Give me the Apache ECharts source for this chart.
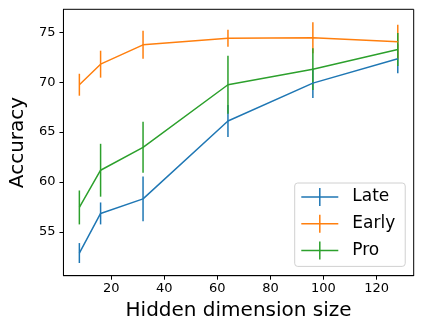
<!DOCTYPE html>
<html><head><meta charset="utf-8">
<script src="https://cdn.jsdelivr.net/npm/echarts@6/dist/echarts.min.js"></script>
<style>html,body{margin:0;padding:0;background:#fff}#c{width:423px;height:328px}</style>
</head><body><div id="c"></div>
<script>
const xs = [8, 16, 32, 64, 96, 128];
const late = [52.87, 56.84, 58.3, 66.1, 69.9, 72.34];
const lateErr = [1.0, 1.1, 2.25, 1.6, 1.5, 1.45];
const early = [69.74, 71.8, 73.74, 74.4, 74.44, 74.04];
const earlyErr = [1.1, 1.35, 1.4, 0.85, 1.55, 1.7];
const pro = [57.44, 61.17, 63.47, 69.74, 71.3, 73.27];
const proErr = [1.7, 2.65, 2.55, 2.9, 2.1, 1.66];
const xTicks = [20, 40, 60, 80, 100, 120];
const yTicks = [55, 60, 65, 70, 75];
const names = ['Late', 'Early', 'Pro'];
const colors = ['#1f77b4', '#ff7f0e', '#2ca02c'];

const means = [late, early, pro];
const errs = [lateErr, earlyErr, proErr];
const font = 'DejaVu Sans';
const series = [];
names.forEach((n, i) => {
  series.push({
    name: n, type: 'line', symbol: 'none',
    data: xs.map((x, j) => [x, means[i][j]]),
    lineStyle: { color: colors[i], width: 1.5 }, itemStyle: { color: colors[i] },
    animation: false
  });
  series.push({
    name: n, type: 'custom',
    data: xs.map((x, j) => [x, means[i][j] - errs[i][j], means[i][j] + errs[i][j]]),
    renderItem: function (params, api) {
      const p1 = api.coord([api.value(0), api.value(1)]);
      const p2 = api.coord([api.value(0), api.value(2)]);
      return { type: 'line', shape: { x1: p1[0], y1: p1[1], x2: p2[0], y2: p2[1] },
        style: { stroke: colors[i], lineWidth: 1.5 } };
    },
    itemStyle: { color: colors[i] },
    animation: false
  });
});
const icon = 'path://M0,8.25 H37 V9.75 H0 Z M17.75,0 H19.25 V18 H17.75 Z';
const chart = echarts.init(document.getElementById('c'), null, { renderer: 'canvas' });
chart.setOption({
  animation: false,
  grid: { left: 56.7, top: 9.3, right: 9.3, bottom: 52.3, show: true, borderColor: '#000', borderWidth: 1, containLabel: false },
  xAxis: {
    type: 'value', min: 2, max: 134,
    splitLine: { show: false },
    axisLine: { show: true, lineStyle: { color: '#000', width: 1 } },
    axisTick: { show: true, inside: false, length: 4, customValues: xTicks, lineStyle: { color: '#000' } },
    axisLabel: { customValues: xTicks, color: '#000', fontSize: 13, fontFamily: font, margin: 6 },
    name: 'Hidden dimension size', nameLocation: 'middle', nameGap: 25,
    nameTextStyle: { fontSize: 20, fontFamily: font, color: '#000' }
  },
  yAxis: {
    type: 'value', min: 50.6, max: 77.3,
    splitLine: { show: false },
    axisLine: { show: true, lineStyle: { color: '#000', width: 1 } },
    axisTick: { show: true, inside: false, length: 4, customValues: yTicks, lineStyle: { color: '#000' } },
    axisLabel: { customValues: yTicks, color: '#000', fontSize: 13, fontFamily: font, margin: 8 },
    name: 'Accuracy', nameLocation: 'middle', nameGap: 30,
    nameTextStyle: { fontSize: 20, fontFamily: font, color: '#000' }
  },
  legend: {
    orient: 'vertical', left: 294.7, top: 183,
    data: names.map(n => ({ name: n, icon: icon })),
    itemWidth: 37, itemHeight: 18, itemGap: 8.7,
    padding: [5, 10, 7, 6.6],
    backgroundColor: '#fff', borderColor: '#d0d0d0', borderWidth: 1, borderRadius: 3,
    itemStyle: { borderWidth: 0 },
    textStyle: { fontSize: 17, fontFamily: font, color: '#000', lineHeight: 18, padding: [0, 0, 0, 9] },
    selectedMode: false
  },
  series: series
});
</script></body></html>
